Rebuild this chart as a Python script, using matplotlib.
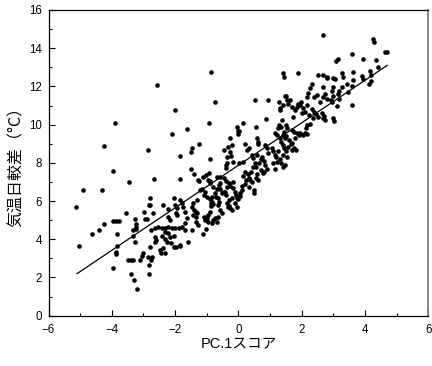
import numpy as np
import matplotlib
matplotlib.use("Agg")
import matplotlib.pyplot as plt
from matplotlib.ticker import MultipleLocator

# PC.1 score / diurnal temperature range in x slices
pc1_a = [-5.12, -5.04, -4.91, -4.63, -4.41, -4.30, -4.26, -4.26,
         -3.97, -3.86, -3.76, -3.95, -3.90, -3.83, -3.84, -3.86, -3.86, -3.97, -3.55,
         -3.47, -3.40, -3.50, -3.40, -3.33, -3.33, -3.32, -3.26, -3.29, -3.21, -3.23, -3.22, -3.24, -3.27,
         -3.00, -3.05, -3.10, -2.98, -2.95, -2.90, -2.87, -2.84, -2.79, -2.79, -2.81, -2.81, -2.79, -2.76,
         -2.87, -2.73, -2.77, -2.68, -2.60, -2.63, -2.58, -2.63, -2.53, -2.70, -2.63]
dtr_a = [5.67, 3.66, 6.58, 4.28, 4.49, 6.58, 4.78, 8.88,
         4.97, 4.97, 4.97, 7.58, 10.09, 4.28, 3.66, 3.35, 3.23, 2.48, 5.39,
         6.98, 2.18, 2.92, 2.92, 2.92, 4.17, 4.47, 3.87, 1.87, 1.38, 4.80, 4.66, 4.54, 5.06,
         3.27, 3.14, 2.92, 5.45, 5.06, 5.06, 8.69, 5.78, 5.80, 6.18, 2.65, 2.18, 3.58, 4.49,
         3.06, 3.06, 2.92, 7.17, 3.96, 3.85, 12.08, 4.57, 4.66, 5.39, 4.10]

pc1_b = [-2.42, -2.31, -2.21, -2.10, -2.00, -2.31, -2.21, -2.39, -2.21, -2.05, -2.37, -2.47, -2.31,
         -2.05, -2.09, -2.00, -2.21, -2.16, -2.42, -2.31, -2.26, -2.16, -2.05, -2.13, -2.45,
         -1.86, -1.86, -1.86, -1.98, -1.95, -1.79, -1.74, -1.84, -1.98, -1.68, -1.62, -1.58, -1.49,
         -1.47, -1.49, -1.47, -1.47, -1.87, -1.77, -1.68, -1.63, -1.68, -1.84, -2.00, -1.95,
         -1.40, -1.26, -1.12, -1.02, -1.16, -1.05, -1.00, -1.31, -1.42, -1.40, -1.42, -1.35, -1.30,
         -1.33, -1.35, -1.29, -1.12, -1.02, -1.24, -1.28, -1.21, -1.08, -1.05, -1.00, -1.10]
dtr_b = [4.57, 4.57, 4.66, 4.57, 4.57, 4.40, 4.31, 5.78, 5.57, 6.18, 3.53, 3.44, 3.27,
         3.58, 9.50, 10.79, 5.19, 5.01, 4.17, 4.00, 3.87, 4.10, 4.19, 3.83, 3.27,
         8.38, 7.17, 3.65, 5.36, 5.27, 5.88, 5.67, 3.70, 3.61, 4.49, 9.77, 3.88, 8.59,
         8.76, 7.70, 5.71, 4.49, 4.58, 4.66, 4.84, 5.10, 5.45, 6.06, 5.80, 5.62,
         7.42, 7.07, 7.28, 7.37, 6.62, 6.49, 6.23, 6.05, 5.88, 5.53, 5.27, 5.45, 5.36,
         5.19, 4.92, 4.75, 4.28, 4.52, 9.00, 7.10, 6.58, 6.32, 5.00, 5.10, 5.19]

pc1_c = [-0.89, -0.86, -0.93, -0.74, -0.91, -0.89, -0.84, -0.84, -0.80, -0.86, -0.89, -0.84,
         -0.74, -0.68, -0.89, -0.97, -0.97, -0.94, -0.79, -0.68, -0.60, -0.68, -0.58, -0.58,
         -0.58, -0.52, -0.63, -0.60, -0.63, -0.58, -0.52, -0.63, -0.74, -0.70, -0.95, -0.79, -0.86,
         -0.37, -0.23, -0.40, -0.40, -0.45, -0.39, -0.31, -0.37, -0.42, -0.47, -0.25, -0.18,
         -0.12, -0.07, -0.03, -0.35, -0.30, -0.25, -0.20, -0.47, -0.33, -0.26, -0.26, -0.21,
         -0.35, -0.16, -0.05, 0.00, -0.02, -0.16, -0.40, -0.30, -0.20, -0.10, -0.05, -0.32]
dtr_c = [8.18, 12.78, 10.09, 11.17, 6.93, 7.07, 6.23, 5.97, 5.85, 5.75, 6.09, 4.84,
         5.10, 4.92, 5.45, 5.27, 4.92, 7.49, 6.76, 6.62, 6.84, 7.28, 7.24, 6.93,
         6.62, 6.44, 6.14, 5.97, 5.80, 5.53, 5.36, 5.19, 6.40, 6.20, 7.10, 5.01, 5.88,
         8.33, 8.36, 7.89, 7.72, 7.20, 7.07, 6.93, 6.75, 6.49, 6.49, 6.79, 6.66,
         6.49, 6.32, 6.14, 5.90, 5.75, 5.65, 5.55, 8.68, 8.85, 9.29, 8.59, 8.94,
         7.97, 8.06, 9.90, 9.67, 9.50, 7.00, 6.30, 6.05, 6.15, 5.90, 5.70, 5.71]

pc1_d = [0.16, 0.03, 0.03, 0.16, 0.21, 0.32, 0.27, 0.42, 0.47, 0.51, 0.45, 0.20, 0.16, 0.25,
         0.30, 0.35, 0.42, 0.40, 0.50, 0.50, 0.10, 0.05, 0.10, 0.20, 0.35, 0.00, 0.05,
         0.56, 0.58, 0.61, 0.63, 0.84, 0.90, 0.86, 0.93, 0.60, 0.70, 0.65, 0.75, 0.80, 0.85,
         0.55, 0.70, 0.80, 0.90, 0.60, 0.55, 0.63, 0.95, 0.79, 0.53, 0.37]
dtr_d = [10.09, 9.69, 7.97, 8.06, 9.00, 8.80, 8.65, 8.41, 8.24, 11.29, 7.80, 7.50, 7.30, 7.10,
         7.40, 7.20, 7.00, 7.50, 6.58, 6.40, 6.60, 6.40, 6.80, 6.90, 6.75, 6.10, 6.25,
         9.90, 9.32, 9.11, 9.00, 8.94, 8.80, 10.28, 11.29, 8.40, 8.20, 8.00, 8.30, 8.10, 7.90,
         7.80, 7.60, 7.50, 7.70, 7.40, 7.20, 7.10, 8.50, 7.45, 7.98, 7.10]

pc1_e = [1.16, 1.21, 1.26, 1.28, 1.35, 1.27, 1.30, 1.42, 1.45, 1.47, 1.30, 1.35, 1.40, 1.45,
         1.50, 1.06, 1.10, 1.15, 1.20, 1.30, 1.35, 1.40, 1.25, 1.45, 1.40, 1.10, 1.21, 1.47,
         1.15, 1.50, 1.51, 1.55, 1.58, 1.63, 1.89, 1.89, 1.98, 1.84, 1.79, 1.74, 1.68, 1.32,
         1.40, 1.37, 1.51, 1.55, 1.69, 1.76, 1.84, 1.90, 1.95, 1.47, 1.69, 1.76, 1.82, 1.69,
         1.53, 1.42, 1.60, 1.80, 1.65, 1.58]
dtr_e = [9.55, 9.46, 9.81, 9.98, 9.90, 11.20, 10.85, 12.69, 12.51, 11.52, 9.30, 9.10, 8.95, 8.80,
         8.60, 8.80, 8.60, 8.40, 8.30, 8.20, 8.00, 7.80, 8.60, 9.60, 9.45, 8.00, 8.06, 7.89,
         7.70, 9.40, 11.50, 11.29, 11.08, 11.29, 12.69, 11.07, 11.17, 10.90, 10.77, 10.38, 10.94, 10.77,
         11.03, 10.25, 9.99, 9.81, 9.72, 9.64, 9.55, 9.46, 9.58, 9.29, 9.03, 8.77, 8.68, 8.68,
         8.33, 8.42, 9.20, 9.30, 9.00, 8.85]

pc1_f = [2.03, 2.10, 2.14, 2.18, 2.16, 2.26, 2.37, 2.16, 2.05, 2.10, 2.00, 1.95, 2.24, 2.32,
         2.39, 2.45, 2.53, 2.63, 2.71, 2.68, 2.74, 2.98, 3.02, 2.16, 2.21, 2.27, 2.32,
         2.68, 4.24, 4.28, 4.63, 4.70, 3.58, 3.08, 3.16, 3.93, 4.35, 4.42, 4.16, 4.18, 3.63,
         3.26, 3.30, 3.90, 3.95, 2.53, 2.68, 2.81, 2.79, 3.00, 3.05, 3.63, 3.58, 4.18, 4.14,
         2.66, 3.00, 2.95, 3.26, 3.19, 3.42, 3.47, 2.74, 2.68, 2.47, 2.39, 2.58, 2.79, 2.92,
         2.97, 3.00, 3.16, 3.19, 3.11, 3.58]
dtr_f = [9.46, 9.55, 9.81, 9.50, 9.99, 10.05, 10.33, 11.03, 10.85, 10.68, 10.59, 11.03, 10.50, 10.82,
         10.68, 10.54, 10.42, 10.59, 10.47, 10.33, 10.25, 10.33, 10.20, 11.47, 11.65, 11.94, 12.11,
         14.70, 14.50, 14.30, 13.79, 13.79, 13.69, 13.33, 13.44, 13.42, 13.39, 13.02, 12.81, 12.60, 12.78,
         12.69, 12.51, 12.56, 12.39, 12.60, 12.60, 12.51, 12.43, 12.46, 12.39, 12.34, 12.02, 12.29, 12.12,
         11.99, 11.99, 11.77, 11.99, 11.77, 12.11, 11.73, 11.59, 11.47, 11.55, 11.47, 11.17, 11.34, 11.29,
         11.17, 11.52, 11.59, 11.34, 10.99, 11.03]

# regression line end points
fit_x = [-5.1, 4.7]
fit_y = [2.2, 13.1]

pc1 = np.concatenate([pc1_a, pc1_b, pc1_c, pc1_d, pc1_e, pc1_f])
dtr = np.concatenate([dtr_a, dtr_b, dtr_c, dtr_d, dtr_e, dtr_f])

fig = plt.figure(figsize=(4.32, 3.66), dpi=100)
ax = fig.add_axes([0.1123, 0.1374, 0.8791, 0.8353])

ax.scatter(pc1, dtr, s=11, c='black', linewidths=0, zorder=3)
ax.plot(fit_x, fit_y, color='black', lw=0.9, zorder=2)

ax.set_xlim(-6, 6)
ax.set_ylim(0, 16)
ax.xaxis.set_major_locator(MultipleLocator(2))
ax.xaxis.set_minor_locator(MultipleLocator(1))
ax.yaxis.set_major_locator(MultipleLocator(2))
ax.yaxis.set_minor_locator(MultipleLocator(1))
ax.tick_params(which='both', direction='in', top=False, right=False, width=0.8, labelsize=8.3)
ax.tick_params(which='major', length=4)
ax.tick_params(which='minor', length=2.5)
ax.tick_params(axis='x', which='major', pad=6)
ax.tick_params(axis='y', which='major', pad=4.5)
for lab in ax.get_xticklabels() + ax.get_yticklabels():
    lab.set_family(['Liberation Sans', 'DejaVu Sans'])

for side in ['left', 'bottom', 'top']:
    ax.spines[side].set_linewidth(0.9)
ax.spines['right'].set_color('#808080')
ax.spines['right'].set_linewidth(1.3)

fam = ['Liberation Sans', 'Noto Sans CJK JP', 'DejaVu Sans']
ax.set_xlabel('PC.1スコア', family=fam, fontsize=10.5)
ax.set_ylabel('気温日較差（°C）', family=['Noto Sans CJK JP', 'DejaVu Sans'], fontsize=11.5)
ax.xaxis.set_label_coords(0.5, -0.07)
ax.yaxis.set_label_coords(-0.062, 0.5)

plt.savefig('out.png', dpi=100)
